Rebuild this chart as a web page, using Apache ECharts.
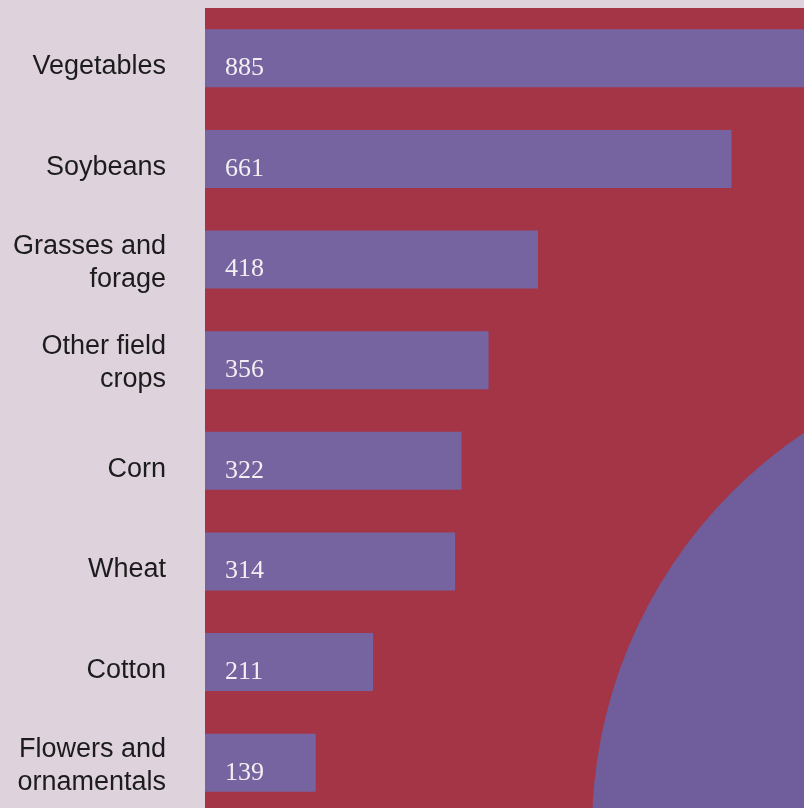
<!DOCTYPE html>
<html>
<head>
<meta charset="utf-8">
<script src="https://cdn.jsdelivr.net/npm/echarts@6/dist/echarts.min.js"></script>
<style>
  html, body { margin: 0; padding: 0; background: #ded2dd; overflow: hidden; }
  #myChart { width: 804px; height: 816px; }
</style>
</head>
<body>
<div id="myChart"></div>
<script>
// crops, top to bottom
var crops = ['Vegetables', 'Soybeans', 'Grasses and\nforage', 'Other field\ncrops', 'Corn', 'Wheat', 'Cotton', 'Flowers and\nornamentals'];
var counts = [885, 661, 418, 356, 322, 314, 211, 139];
// the picture is cut at the right, so the axis ends there
var axisMax = 752;

var myChart = echarts.init(document.getElementById('myChart'));
var option = {
  backgroundColor: '#ded2dd',
  animation: false,
  grid: {
    show: true,
    left: 205,
    top: 8,
    height: 805,
    right: 0,
    backgroundColor: '#a43546',
    borderWidth: 0
  },
  // big purple disc in the corner
  graphic: [{
    type: 'circle',
    z: 1,
    shape: { cx: 1070, cy: 830, r: 478 },
    style: { fill: '#6f5d9c' }
  }],
  xAxis: {
    type: 'value',
    min: 0,
    max: axisMax,
    show: false
  },
  yAxis: {
    type: 'category',
    inverse: true,
    data: crops,
    axisLine: { show: false },
    axisTick: { show: false },
    splitLine: { show: false },
    axisLabel: {
      margin: 39,
      fontFamily: 'Liberation Sans',
      fontSize: 27,
      color: '#1c1c1c',
      align: 'right',
      // single-line names sit a bit low in the band
      formatter: function (name) {
        var parts = name.split('\n');
        if (parts.length === 1) return '{s|' + name + '}';
        return parts.map(function (p) { return '{d|' + p + '}'; }).join('\n');
      },
      rich: {
        s: { fontFamily: 'Liberation Sans', fontSize: 27, color: '#1c1c1c', lineHeight: 44, verticalAlign: 'bottom' },
        d: { fontFamily: 'Liberation Sans', fontSize: 27, color: '#1c1c1c', lineHeight: 33, verticalAlign: 'bottom' }
      }
    }
  },
  series: [{
    type: 'bar',
    data: counts,
    barWidth: 58,
    clip: true,
    z: 2,
    itemStyle: { color: '#7664a0' },
    label: {
      show: true,
      position: 'insideLeft',
      distance: 20,
      offset: [0, 10],
      fontFamily: 'Liberation Serif',
      fontSize: 26,
      color: '#f2eef2'
    }
  }]
};
myChart.setOption(option);
</script>
</body>
</html>
